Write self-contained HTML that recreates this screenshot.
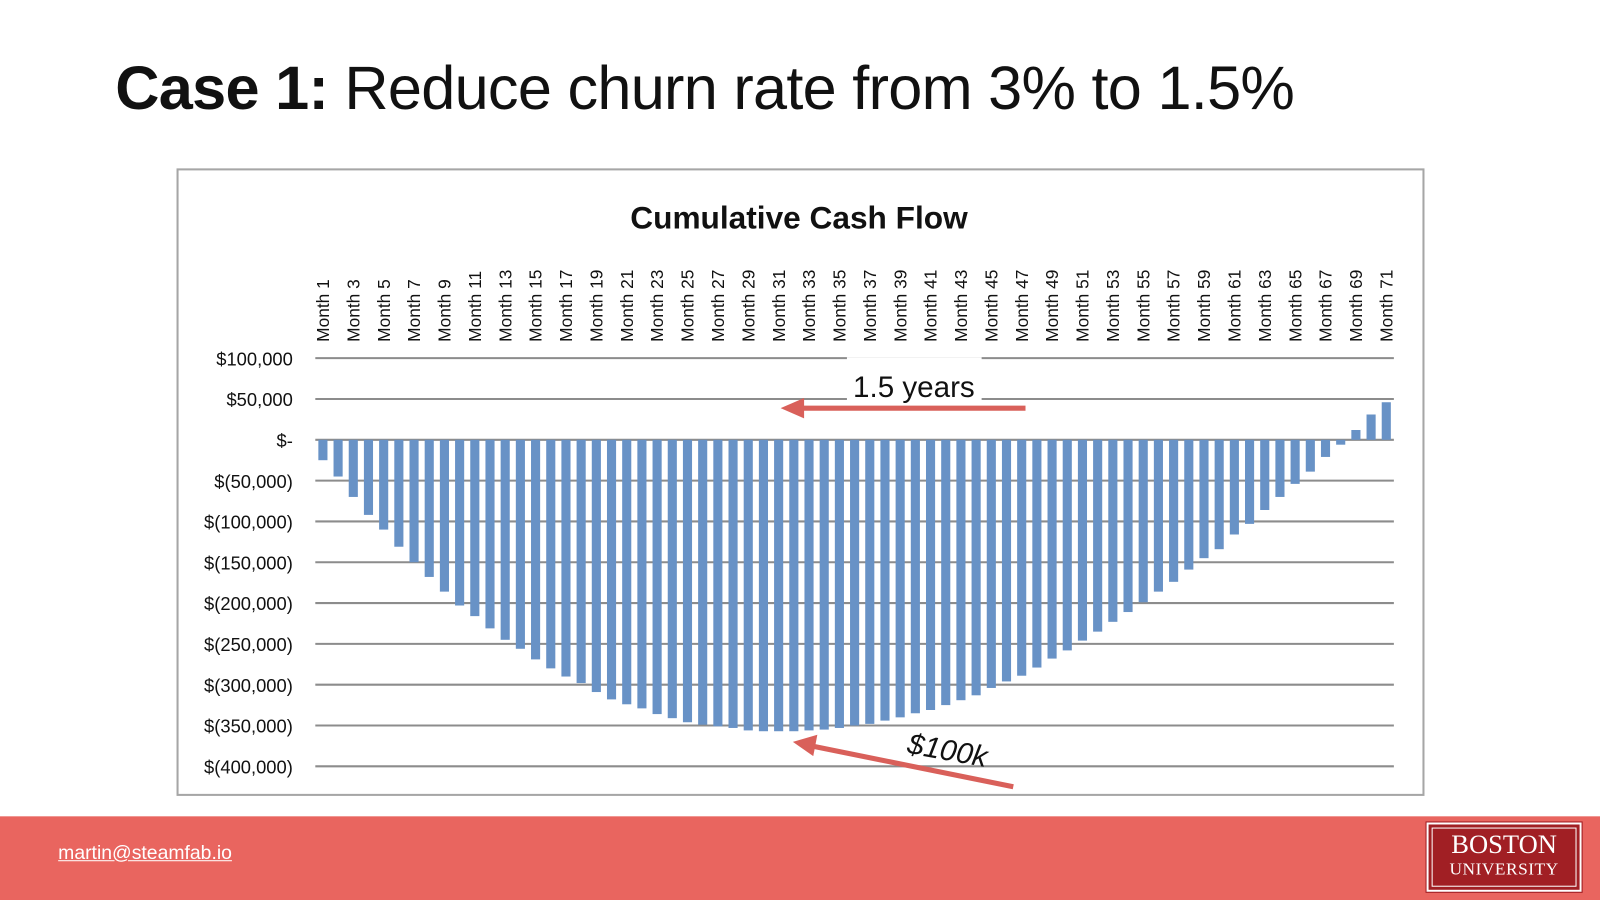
<!DOCTYPE html>
<html><head><meta charset="utf-8">
<style>
html,body{margin:0;padding:0;width:1600px;height:900px;overflow:hidden;background:#fff}
#s{position:absolute;left:0;top:0;width:1568px;height:882px;transform:scale(1.020408);transform-origin:0 0;font-family:"Liberation Sans",sans-serif}
</style></head><body>
<div id="s">
<div style="position:absolute;left:113px;top:52px;font-size:60px;color:#111;white-space:nowrap;letter-spacing:-0.7px"><b>Case 1:</b> Reduce churn rate from 3% to 1.5%</div>
<div style="position:absolute;left:173px;top:165px;width:1223px;height:615px;border:2px solid #a6a6a6;box-sizing:border-box"></div>
<svg id="chart" width="1568" height="882" style="position:absolute;left:0;top:0"></svg>
<div style="position:absolute;left:0;top:800px;width:1568px;height:82px;background:#e9655f"></div>
<div style="position:absolute;left:57px;top:826px;color:#fff;font-size:19px;text-decoration:underline">martin@steamfab.io</div>
<div style="position:absolute;left:1398px;top:806px;width:152px;height:68px;background:#a11f24;box-sizing:border-box;border:2px solid #fff;outline:1px solid #a11f24;font-family:'Liberation Serif',serif;color:#fff;text-align:center">
<div style="position:absolute;left:3px;top:3px;right:3px;bottom:3px;border:1px solid #fff"></div>
<div style="font-size:26px;margin-top:6px;line-height:28px">BOSTON</div>
<div style="font-size:17px;line-height:20px;letter-spacing:0.5px">UNIVERSITY</div>
</div>
</div>
<script>
const months=[];for(let i=1;i<=71;i++)months.push('Month '+i);
const values=[-25,-45,-70,-92,-110,-131,-150,-168,-186,-203,-216,-231,-245,-256,-269,-280,-290,-298,-309,-318,-324,-329,-336,-341,-346,-349,-351,-353,-356,-357,-357,-357,-356,-355,-353,-350,-348,-344,-340,-335,-331,-325,-319,-313,-304,-296,-289,-279,-268,-258,-246,-235,-223,-211,-199,-186,-174,-159,-145,-134,-116,-103,-86,-70,-54,-39,-21,-6,12,31,46];
const yTicks=[100,50,0,-50,-100,-150,-200,-250,-300,-350,-400];
const yTickLabels=['$100,000','$50,000','$-','$(50,000)','$(100,000)','$(150,000)','$(200,000)','$(250,000)','$(300,000)','$(350,000)','$(400,000)'];
const NS='http://www.w3.org/2000/svg';
const svg=document.getElementById('chart');
const X0=309,X1=1366,Y0=351,Y1=751,VMAX=100,VMIN=-400;
const step=(X1-X0)/months.length;
function y(v){return Y0+(VMAX-v)/(VMAX-VMIN)*(Y1-Y0);}
function x(i){return X0+step*(i+0.5);}
function mk(t,a){const e=document.createElementNS(NS,t);for(const k in a)e.setAttribute(k,a[k]);svg.appendChild(e);return e;}
let t=mk('text',{x:783,y:224,'text-anchor':'middle','font-size':'31','font-weight':'bold',fill:'#111'});
t.textContent='Cumulative Cash Flow';


yTicks.forEach((v,i)=>{
 const g=mk('line',{x1:X0,x2:X1,y1:y(v),y2:y(v),stroke:'#8c8c8c','stroke-width':'2'});
 
 
 const l=mk('text',{x:287,y:y(v)+7,'text-anchor':'end','font-size':'18',fill:'#111'});
 l.textContent=yTickLabels[i];
 
 
});
values.forEach((v,i)=>{
 const bw=step*0.6;
 const top=Math.min(y(v),y(0)),h=Math.abs(y(v)-y(0));
 const b=mk('rect',{x:x(i)-bw/2,y:top,width:bw,height:h,fill:'#6892c6'});
 
 
});
months.forEach((m,i)=>{
 if(i%2)return;
 const l=mk('text',{x:0,y:0,'font-size':'17',fill:'#111','text-anchor':'start',transform:`translate(${x(i)+6},335) rotate(-90)`});
 l.textContent=m;
 
 
});
const bg=mk('rect',{x:830,y:350,width:132,height:42,fill:'#fff'});


const a1=mk('text',{x:836,y:389,'font-size':'29',fill:'#111'});
a1.textContent='1.5 years';


const ar1=mk('line',{x1:1005,y1:400,x2:782,y2:400,stroke:'#d9605a','stroke-width':'5'});


const h1=mk('polygon',{points:'765,400 788,390 788,410',fill:'#d9605a'});


const ar2=mk('line',{x1:993,y1:771,x2:795,y2:731,stroke:'#d9605a','stroke-width':'5'});


const h2=mk('polygon',{points:'777,727 801,720 797,741',fill:'#d9605a'});


const a2=mk('text',{x:0,y:0,'font-size':'29','font-style':'italic',fill:'#111',transform:'translate(888,738) rotate(10)'});
a2.textContent='$100k';


</script>
</body></html>
